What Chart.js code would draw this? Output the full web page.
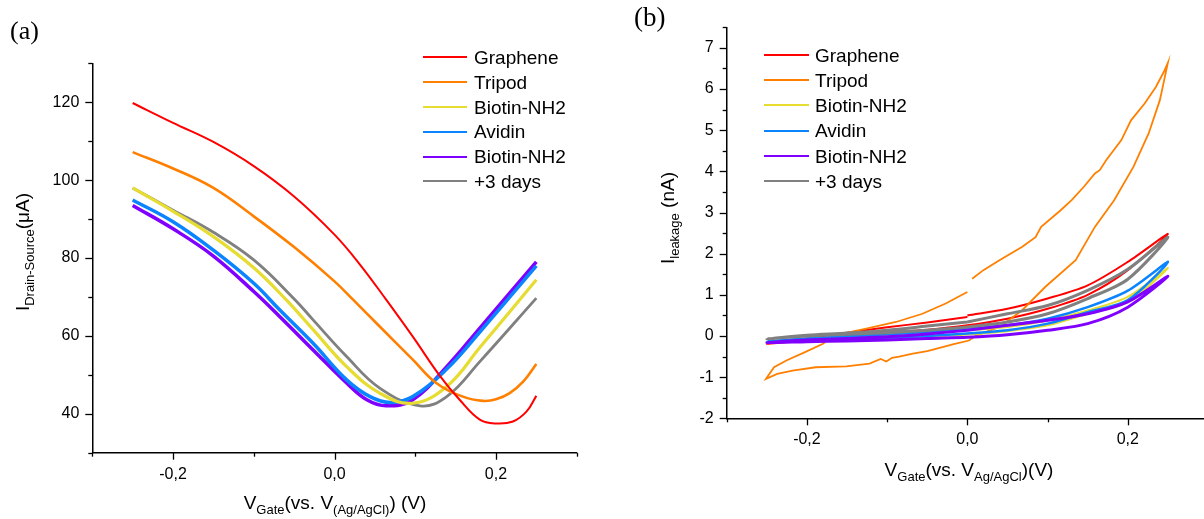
<!DOCTYPE html>
<html>
<head>
<meta charset="utf-8">
<script src="https://cdn.jsdelivr.net/npm/chart.js@4.4.0/dist/chart.umd.min.js"></script>
<style>
  html, body { margin: 0; padding: 0; background: #fff; }
  #page { position: relative; width: 1204px; height: 519px; overflow: hidden; font-family: "Liberation Sans", Arial, sans-serif; color: #000; }
  canvas { position: absolute; top: 0; }
  .panel-tag { position: absolute; font-family: "Liberation Serif", "Times New Roman", serif; line-height: 1; }
  .axis-title { position: absolute; font-size: 19px; line-height: 1; white-space: nowrap; transform: translate(-50%, -50%); }
  .axis-title.rot { transform: translate(-50%, -50%) rotate(-90deg); }
  .axis-title sub { font-size: 13px; vertical-align: -5px; line-height: 0; }
  .leg-row { position: absolute; height: 19px; font-size: 19px; line-height: 19px; white-space: nowrap; }
  .leg-line { position: absolute; height: 2px; }
</style>
</head>
<body>
<div id="page">
  <canvas id="chartA" width="600" height="519" style="left:0;width:600px;height:519px"></canvas>
  <canvas id="chartB" width="620" height="519" style="left:600px;width:620px;height:519px"></canvas>

  <div class="panel-tag" style="left:10px;top:18px;font-size:26px">(a)</div>
  <div class="panel-tag" style="left:634px;top:4px;font-size:27px">(b)</div>

  <div class="axis-title rot" style="left:22px;top:252px">I<sub>Drain-Source</sub>(μA)</div>
  <div class="axis-title" style="left:335px;top:502px">V<sub>Gate</sub>(vs. V<sub>(Ag/AgCl)</sub>) (V)</div>
  <div class="axis-title rot" style="left:667px;top:218px">I<sub>leakage</sub> (nA)</div>
  <div class="axis-title" style="left:969px;top:469px">V<sub>Gate</sub>(vs. V<sub>Ag/AgCl</sub>)(V)</div>

  <div id="legendA"></div>
  <div id="legendB"></div>
</div>

<script>
// Series names and colours (same in both panels)
const seriesNames = ['Graphene', 'Tripod', 'Biotin-NH2', 'Avidin', 'Biotin-NH2', '+3 days'];
const seriesColors = ['#ff0000', '#ff8000', '#e6dc32', '#0a84ff', '#8000ff', '#808080'];

// Panel (a): V gate (V) vs I drain-source (uA)
const grapheneVa = [-0.25, -0.2, -0.15, -0.1, -0.05, 0.0, 0.032, 0.064, 0.097, 0.131, 0.155, 0.18, 0.2, 0.221, 0.238, 0.25];
const grapheneIa = [119.8, 114.7, 109.8, 103.6, 95.8, 86.0, 78.2, 69.3, 59.8, 49.6, 43.6, 38.5, 37.5, 38.0, 40.6, 44.6];
const tripodVa = [-0.25, -0.2, -0.15, -0.1, -0.05, 0.0, 0.023, 0.056, 0.097, 0.126, 0.159, 0.184, 0.2, 0.217, 0.234, 0.25];
const tripodIa = [107.2, 103.0, 98.0, 90.7, 82.8, 74.0, 69.3, 62.4, 53.9, 47.9, 44.4, 43.3, 43.7, 45.3, 48.3, 52.8];
const biotinVa = [-0.25, -0.2, -0.15, -0.1, -0.06, -0.0265, 0.015, 0.056, 0.097, 0.139, 0.18, 0.25];
const biotinIa = [98.0, 92.0, 85.5, 77.5, 69.3, 61.6, 52.1, 45.3, 42.7, 47.0, 57.0, 74.4];
const avidinVa = [-0.25, -0.2, -0.15, -0.1, -0.068, -0.0265, 0.015, 0.044, 0.069, 0.097, 0.139, 0.18, 0.25];
const avidinIa = [94.9, 89.3, 82.0, 73.5, 66.7, 58.1, 48.7, 44.4, 42.9, 44.4, 51.5, 61.0, 78.0];
const biotin2Va = [-0.25, -0.2, -0.15, -0.1, -0.068, -0.0265, 0.015, 0.04, 0.064, 0.097, 0.139, 0.18, 0.25];
const biotin2Ia = [93.5, 87.5, 80.5, 71.4, 65.0, 56.4, 47.9, 43.6, 42.05, 43.6, 52.1, 62.0, 79.0];
const daysVa = [-0.25, -0.2, -0.15, -0.1, -0.049, -0.0265, 0.015, 0.056, 0.106, 0.139, 0.18, 0.25];
const daysIa = [98.0, 92.3, 86.6, 79.5, 69.3, 64.1, 54.7, 46.6, 42.05, 44.4, 53.4, 69.7];

// Panel (b): leakage current, sweep 0 -> 0.25 -> -0.25 -> 0
const tripodVb = [0.006, 0.02, 0.04, 0.068, 0.085, 0.092, 0.116, 0.13, 0.145, 0.159, 0.165, 0.173, 0.192, 0.204, 0.221, 0.235, 0.245, 0.25,
  0.24, 0.226, 0.207, 0.183, 0.159, 0.135, 0.097, 0.068, 0.04, 0.011, 0.002, -0.017, -0.031, -0.05, -0.068, -0.085, -0.094, -0.101, -0.108, -0.122, -0.151, -0.189, -0.218, -0.237, -0.251,
  -0.241, -0.225, -0.203, -0.18, -0.167, -0.126, -0.089, -0.056, -0.027, 0.0];
const tripodIb = [1.39, 1.6, 1.84, 2.16, 2.4, 2.65, 3.05, 3.3, 3.62, 3.95, 4.03, 4.27, 4.76, 5.24, 5.65, 6.05, 6.42, 6.64,
  5.73, 4.92, 4.11, 3.30, 2.65, 1.84, 1.19, 0.62, 0.22, 0.01, -0.11, -0.2, -0.27, -0.37, -0.43, -0.5, -0.53, -0.62, -0.56, -0.67, -0.74, -0.76, -0.84, -0.92, -1.04,
  -0.76, -0.59, -0.40, -0.19, 0.01, 0.18, 0.34, 0.54, 0.79, 1.07];
const loopV = [0.0, 0.05, 0.1, 0.15, 0.2, 0.25, 0.2, 0.15, 0.1, 0.05, 0.0, -0.05, -0.1, -0.15, -0.2, -0.25, -0.2, -0.15, -0.1, -0.05, 0.0];
const grapheneIb = [0.50, 0.66, 0.91, 1.23, 1.80, 2.48, 1.60, 1.00, 0.66, 0.42, 0.26, 0.15, 0.08, 0.0, -0.10, -0.19, -0.06, 0.08, 0.21, 0.33, 0.46];
const biotinIb = [0.14, 0.22, 0.38, 0.62, 0.95, 1.65, 0.83, 0.54, 0.26, 0.12, 0.04, -0.01, -0.05, -0.08, -0.11, -0.14, -0.08, -0.03, 0.02, 0.07, 0.14];
const avidinIb = [0.18, 0.26, 0.42, 0.70, 1.10, 1.80, 0.87, 0.58, 0.30, 0.14, 0.06, 0.0, -0.04, -0.07, -0.10, -0.13, -0.06, -0.01, 0.04, 0.10, 0.18];
const biotin2Ib = [0.14, 0.26, 0.38, 0.54, 0.83, 1.45, 0.70, 0.30, 0.14, 0.03, -0.03, -0.06, -0.10, -0.12, -0.14, -0.16, -0.10, -0.06, -0.02, 0.05, 0.14];
const daysIb = [0.34, 0.54, 0.74, 1.11, 1.62, 2.40, 1.38, 0.91, 0.54, 0.34, 0.22, 0.14, 0.08, 0.04, 0.0, -0.07, 0.02, 0.07, 0.14, 0.24, 0.34];

// Axis ranges and tick steps
const xRange = { min: -0.3, max: 0.3, step: 0.1 };
const yRangeA = { min: 30, max: 130, step: 10, labelEvery: 20 };
const yRangeB = { min: -2, max: 7.5, step: 0.5, labelEvery: 1 };

function toPoints(xs, ys) {
  return xs.map((x, i) => ({ x: x, y: ys[i] }));
}

// Outward tick marks: long for labelled ticks, short for the others
const tickMarks = {
  id: 'tickMarks',
  afterDraw(chart) {
    const ctx = chart.ctx;
    const area = chart.chartArea;
    ctx.save();
    ctx.strokeStyle = '#000';
    ctx.lineWidth = 1.3;
    Object.values(chart.scales).forEach(scale => {
      scale.ticks.forEach((t, i) => {
        const len = t.label ? 7 : 4;
        const p = Math.round(scale.getPixelForTick(i)) + 0.5;
        ctx.beginPath();
        if (scale.isHorizontal()) {
          ctx.moveTo(p, area.bottom);
          ctx.lineTo(p, area.bottom + len);
        } else {
          ctx.moveTo(area.left, p);
          ctx.lineTo(area.left - len, p);
        }
        ctx.stroke();
      });
    });
    ctx.restore();
  }
};

function makeDatasets(pairs, widths, tensions, lastOnTop) {
  return pairs.map((p, i) => {
    const ds = {
      label: seriesNames[i],
      data: toPoints(p[0], p[1]),
      borderColor: seriesColors[i],
      borderWidth: widths[i],
      pointRadius: 0,
      showLine: true,
      fill: false,
      tension: tensions[i]
    };
    if (lastOnTop) ds.order = pairs.length - i;
    return ds;
  });
}

function buildOptions(yr, box) {
  const tickFont = { family: '"Liberation Sans", Arial, sans-serif', size: 16 };
  return {
    responsive: false,
    animation: false,
    layout: { padding: { left: 0, top: box.top, right: box.right, bottom: 0 } },
    plugins: { legend: { display: false }, tooltip: { enabled: false } },
    scales: {
      x: {
        type: 'linear',
        min: xRange.min,
        max: xRange.max,
        border: { display: true, color: '#000', width: 1.5 },
        grid: { display: true, drawOnChartArea: false, drawTicks: false },
        afterFit: s => { s.height = box.bottom; },
        ticks: {
          stepSize: xRange.step,
          autoSkip: false,
          maxRotation: 0,
          padding: 12,
          color: '#000',
          font: tickFont,
          callback: v => {
            const k = Math.round(v * 10);
            if (k % 2 !== 0) return '';
            return (k / 10).toFixed(1).replace('.', ',');
          }
        }
      },
      y: {
        type: 'linear',
        min: yr.min,
        max: yr.max,
        border: { display: true, color: '#000', width: 1.5 },
        grid: { display: true, drawOnChartArea: false, drawTicks: false },
        afterFit: s => { s.width = box.left; },
        ticks: {
          stepSize: yr.step,
          autoSkip: false,
          padding: 13,
          color: '#000',
          font: tickFont,
          callback: v => {
            const r = Math.round(v * 10) / 10;
            if (Math.abs(r % yr.labelEvery) > 1e-6) return '';
            return String(r);
          }
        }
      }
    }
  };
}

// HTML legend built from the series names and colours
function buildLegend(id, rowTop, rowGap, lineLeft, lineRight, textLeft) {
  const box = document.getElementById(id);
  seriesNames.forEach((name, i) => {
    const y = rowTop + rowGap * i;
    const line = document.createElement('div');
    line.className = 'leg-line';
    line.style.left = lineLeft + 'px';
    line.style.width = (lineRight - lineLeft) + 'px';
    line.style.top = Math.round(y - 1) + 'px';
    line.style.background = seriesColors[i];
    box.appendChild(line);
    const row = document.createElement('div');
    row.className = 'leg-row';
    row.style.left = textLeft + 'px';
    row.style.top = (y - 9.3) + 'px';
    row.textContent = name;
    box.appendChild(row);
  });
}

document.addEventListener('DOMContentLoaded', function() {
  // Panel (a)
  const dataA = makeDatasets([
    [grapheneVa, grapheneIa],
    [tripodVa, tripodIa],
    [biotinVa, biotinIa],
    [avidinVa, avidinIa],
    [biotin2Va, biotin2Ia],
    [daysVa, daysIa]
  ], [2, 2.6, 3.2, 3.5, 3.5, 2.8], [0.4, 0.4, 0.4, 0.4, 0.4, 0.4], false);
  new Chart(document.getElementById('chartA'), {
    type: 'scatter',
    data: { datasets: dataA },
    options: buildOptions(yRangeA, { left: 92.3, top: 63.3, right: 600 - 576.7, bottom: 519 - 452.7 }),
    plugins: [tickMarks]
  });

  // Panel (b)
  const dataB = makeDatasets([
    [loopV, grapheneIb],
    [tripodVb, tripodIb],
    [loopV, biotinIb],
    [loopV, avidinIb],
    [loopV, biotin2Ib],
    [loopV, daysIb]
  ], [2, 1.8, 2.2, 2.5, 3, 3], [0.3, 0, 0.3, 0.3, 0.3, 0.3], true);
  new Chart(document.getElementById('chartB'), {
    type: 'scatter',
    data: { datasets: dataB },
    options: buildOptions(yRangeB, { left: 126.7, top: 27.3, right: 620 - 610.8, bottom: 519 - 418.3 }),
    plugins: [tickMarks]
  });

  buildLegend('legendA', 57.3, 24.8, 423, 467, 474);
  buildLegend('legendB', 55, 25.2, 764, 809, 815);
});
</script>
</body>
</html>
